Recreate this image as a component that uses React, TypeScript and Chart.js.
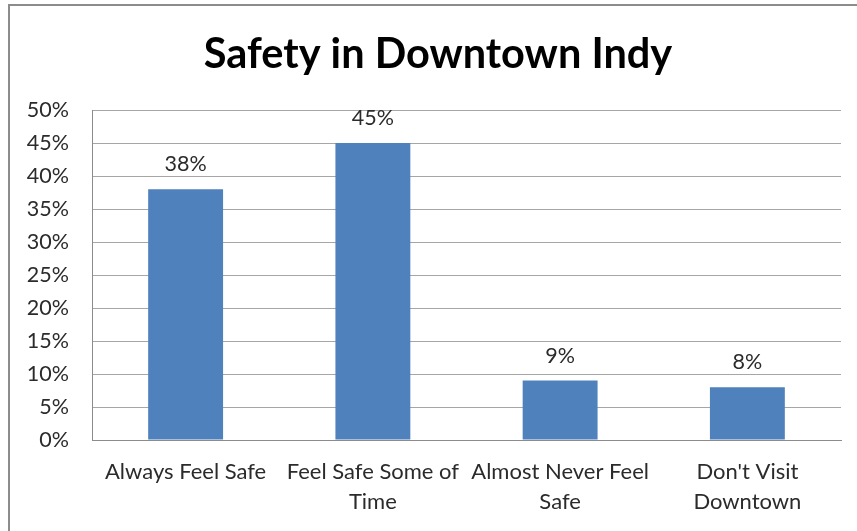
import React, { useEffect, useRef } from "react";
import { Chart, registerables } from "chart.js";

Chart.register(...registerables);

const categories = ["Always Feel Safe", "Feel Safe Some of Time", "Almost Never Feel Safe", "Don't Visit Downtown"];
const tickLabels = [["Always Feel Safe"], ["Feel Safe Some of", "Time"], ["Almost Never Feel", "Safe"], ["Don't Visit", "Downtown"]];
const values = [38, 45, 9, 8];
const yTicks = [0, 5, 10, 15, 20, 25, 30, 35, 40, 45, 50];
const titleText = "Safety in Downtown Indy";

const FONT = "Lato, 'Open Sans', sans-serif";

const framePlugin = {
  id: "frame",
  beforeDraw(chart: any) {
    const ctx = chart.ctx;
    ctx.save();
    ctx.fillStyle = "#ffffff";
    ctx.fillRect(0, 0, chart.width, chart.height);
    ctx.strokeStyle = "#8c8c8c";
    ctx.lineWidth = 2;
    ctx.beginPath();
    ctx.moveTo(9, chart.height);
    ctx.lineTo(9, 5);
    ctx.lineTo(chart.width, 5);
    ctx.stroke();
    ctx.restore();
  },
  afterDraw(chart: any) {
    const ctx = chart.ctx;
    ctx.save();
    ctx.font = `bold 41.5px ${FONT}`;
    ctx.fillStyle = "#000000";
    ctx.textAlign = "center";
    ctx.textBaseline = "middle";
    ctx.fillText(titleText, 438, 55);
    ctx.restore();
  },
};

const labelPlugin = {
  id: "valueLabels",
  afterDatasetsDraw(chart: any) {
    const ctx = chart.ctx;
    const meta = chart.getDatasetMeta(0);
    ctx.save();
    ctx.font = `21.5px ${FONT}`;
    ctx.fillStyle = "#2b2b2b";
    ctx.textAlign = "center";
    ctx.textBaseline = "middle";
    meta.data.forEach((bar: any, i: number) => {
      ctx.fillText(values[i] + "%", bar.x, bar.y - 25);
    });
    ctx.restore();
  },
};

export default function App() {
  const ref = useRef<HTMLCanvasElement>(null);
  useEffect(() => {
    if (!ref.current) return;
    const chart = new Chart(ref.current, {
      type: "bar",
      data: {
        labels: categories,
        datasets: [
          {
            data: values,
            backgroundColor: "#4F81BD",
            borderColor: "#4A7EBB",
            borderWidth: 0,
            categoryPercentage: 1,
            barPercentage: 0.4,
          },
        ],
      },
      options: {
        responsive: false,
        animation: false,
        layout: { padding: { left: 0, right: 16, top: 110, bottom: 0 } },
        plugins: {
          legend: { display: false },
          tooltip: { enabled: false },
          title: { display: false },
        },
        scales: {
          x: {
            grid: { display: false, drawTicks: false },
            border: { display: true, color: "#8c8c8c", width: 1 },
            ticks: {
              color: "#2b2b2b",
              font: { family: FONT, size: 22, lineHeight: 1.36 },
              padding: 17,
              autoSkip: false,
              maxRotation: 0,
              minRotation: 0,
              callback: (_v: any, i: number) => tickLabels[i],
            },
            afterFit: (s: any) => {
              s.height = 91;
            },
          },
          y: {
            min: 0,
            max: 50,
            afterBuildTicks: (s: any) => {
              s.ticks = yTicks.map((v) => ({ value: v }));
            },
            grid: { color: "#a6a6a6", lineWidth: 1, drawTicks: false },
            border: { display: true, color: "#8c8c8c", width: 1 },
            ticks: {
              color: "#2b2b2b",
              font: { family: FONT, size: 21.5 },
              padding: 23,
              callback: (v: any) => v + "%",
            },
            afterFit: (s: any) => {
              s.width = 92;
            },
          },
        },
      },
      plugins: [framePlugin, labelPlugin],
    });
    return () => chart.destroy();
  }, []);
  return (
    <div style={{ position: "fixed", left: 0, top: 0, width: 857, height: 531 }}>
      <canvas ref={ref} width={857} height={531} style={{ width: 857, height: 531 }} />
    </div>
  );
}
